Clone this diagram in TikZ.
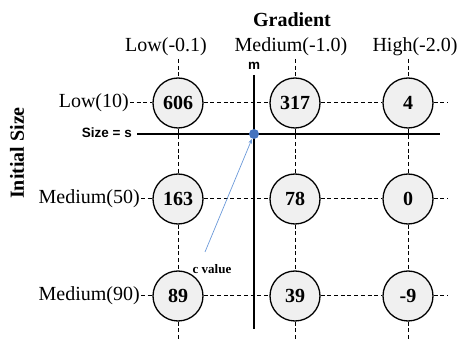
\documentclass[tikz,border=0pt]{standalone}
\usepackage{fontspec}
\setmainfont{Liberation Serif}
\setsansfont{Liberation Sans}
\definecolor{cellgray}{rgb}{0.94,0.94,0.94}
\definecolor{dotblue}{rgb}{0.27,0.45,0.75}
\definecolor{arrowblue}{rgb}{0.42,0.60,0.85}
\usetikzlibrary{arrows.meta,positioning}

\begin{document}
\begin{tikzpicture}[x=1pt,y=-1pt,
    cell/.style={circle,draw,line width=1.3pt,fill=cellgray,minimum size=50pt,inner sep=0pt,font=\fontsize{20}{24}\selectfont\bfseries},
    lab/.style={font=\fontsize{20}{24}\selectfont,inner sep=1pt},
    grid/.style={dash pattern=on 4pt off 2.7pt,line width=1pt},
    solid line/.style={line width=1.2pt},
    arr/.style={-{Stealth[length=5pt]},arrowblue,line width=0.7pt}]
    \useasboundingbox (0,0) rectangle (461,339);
    % titles
    \node[font=\fontsize{20}{24}\selectfont\bfseries] (grad) at (292,20) {Gradient};
    \node[font=\fontsize{20}{24}\selectfont\bfseries,rotate=90] (isize) at (17,153) {Initial Size};
    % column labels
    \node[lab] (lowg) at (166,47) {Low(-0.1)};
    \node[lab] (medg) at (291,47) {Medium(-1.0)};
    \node[lab] (highg) at (415,47) {High(-2.0)};
    % row labels
    \node[lab,anchor=east] (lows) at (130,103) {Low(10)};
    \node[lab,anchor=east] (meds) at (141,199) {Medium(50)};
    \node[lab,anchor=east] (medt) at (141,296) {Medium(90)};
    % cells
    \node[cell] (c11) at (178,103) {606};
    \node[cell] (c12) at (295,103) {317};
    \node[cell] (c13) at (408,103) {4};
    \node[cell] (c21) at (178,199) {163};
    \node[cell] (c22) at (295,199) {78};
    \node[cell] (c23) at (408,199) {0};
    \node[cell] (c31) at (178,296) {89};
    \node[cell] (c32) at (295,296) {39};
    \node[cell] (c33) at (408,296) {-9};
    % free ends of the grid
    \coordinate (t1) at (178,59); \coordinate (t2) at (295,59); \coordinate (t3) at (408,59);
    \coordinate (b1) at (178,339); \coordinate (b2) at (295,339); \coordinate (b3) at (408,339);
    \coordinate (r1) at (448,103); \coordinate (r2) at (448,199); \coordinate (r3) at (448,296);
    % dashed grid
    \draw[grid] (t1)--(c11); \draw[grid] (c11)--(c21); \draw[grid] (c21)--(c31); \draw[grid] (c31)--(b1);
    \draw[grid] (t2)--(c12); \draw[grid] (c12)--(c22); \draw[grid] (c22)--(c32); \draw[grid] (c32)--(b2);
    \draw[grid] (t3)--(c13); \draw[grid] (c13)--(c23); \draw[grid] (c23)--(c33); \draw[grid] (c33)--(b3);
    \draw[grid] (lows)--(c11); \draw[grid] (c11)--(c12); \draw[grid] (c12)--(c13); \draw[grid] (c13)--(r1);
    \draw[grid] (meds)--(c21); \draw[grid] (c21)--(c22); \draw[grid] (c22)--(c23); \draw[grid] (c23)--(r2);
    \draw[grid] (medt)--(c31); \draw[grid] (c31)--(c32); \draw[grid] (c32)--(c33); \draw[grid] (c33)--(r3);
    % m and size lines
    \node[font=\fontsize{13.5}{16}\selectfont\sffamily\bfseries,inner sep=0pt] (mlab) at (254,66) {m};
    \coordinate (mtop) at (254,75); \coordinate (mbot) at (254,329);
    \draw[solid line] (mtop)--(mbot);
    \node[font=\fontsize{13.5}{16}\selectfont\sffamily\bfseries,anchor=east,inner sep=0pt] (sizelab) at (132,133) {Size = s};
    \coordinate (sleft) at (137,134); \coordinate (sright) at (440,134);
    \draw[solid line] (sleft)--(sright);
    \node[circle,fill=dotblue,minimum size=10pt,inner sep=0pt] (dot) at (254,134) {};
    % c value
    \coordinate (cstart) at (205,252);
    \draw[arr] (cstart)--(dot);
    \node[font=\fontsize{13}{15}\selectfont\bfseries] (cval) at (212,269) {c value};
\end{tikzpicture}
\end{document}
